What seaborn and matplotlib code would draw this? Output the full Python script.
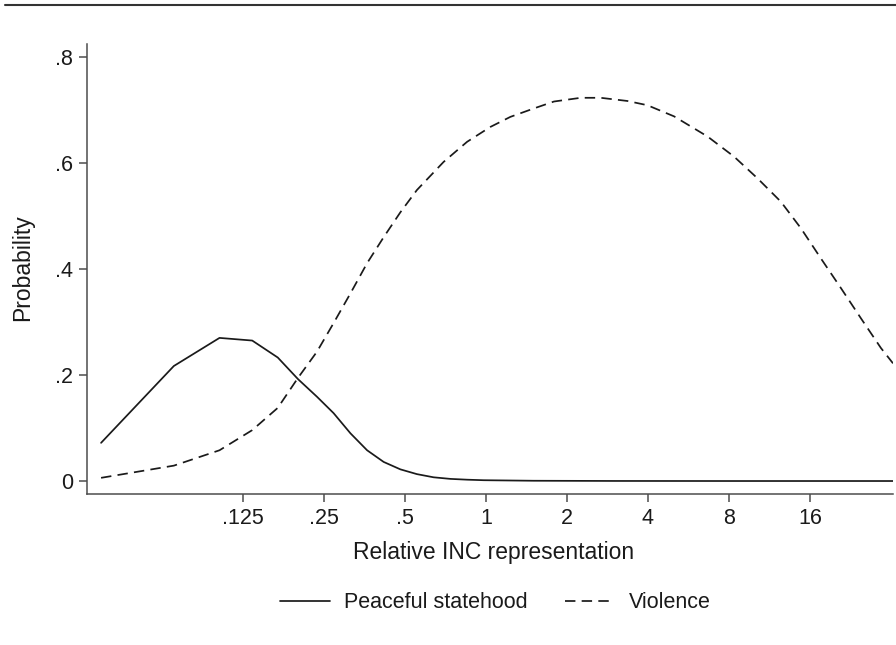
import matplotlib
matplotlib.use("Agg")
import matplotlib.pyplot as plt
import seaborn as sns
import pandas as pd
from matplotlib.lines import Line2D

# ---- data ----
x_peace = [0.037, 0.069, 0.102, 0.135, 0.168, 0.200, 0.235, 0.271, 0.313, 0.361,
           0.416, 0.48, 0.553, 0.638, 0.737, 0.85, 0.98, 1.5, 3.0, 8.0, 32.6]
y_peace = [0.072, 0.217, 0.270, 0.265, 0.233, 0.192, 0.159, 0.128, 0.090, 0.058,
           0.036, 0.022, 0.013, 0.007, 0.004, 0.0025, 0.0015, 0.0005, 0.0001, 0.0, 0.0]

x_viol = [0.037, 0.069, 0.102, 0.135, 0.168, 0.200, 0.235, 0.271, 0.313, 0.361,
          0.416, 0.48, 0.553, 0.695, 0.850, 1.037, 1.231, 1.507, 1.789, 2.249,
          2.668, 3.354, 3.98, 5.00, 6.66, 8.36, 10.22, 12.48, 14.81, 17.58,
          20.87, 24.77, 29.39, 32.6]
y_viol = [0.006, 0.029, 0.058, 0.096, 0.138, 0.195, 0.244, 0.298, 0.354, 0.411,
          0.460, 0.507, 0.549, 0.602, 0.640, 0.668, 0.687, 0.703, 0.716, 0.723,
          0.723, 0.717, 0.709, 0.688, 0.650, 0.612, 0.571, 0.527, 0.477, 0.420,
          0.364, 0.307, 0.251, 0.222]

series_names = ["Peaceful statehood", "Violence"]
x_ticks = [0.125, 0.25, 0.5, 1, 2, 4, 8, 16]
x_ticklabels = [".125", ".25", ".5", "1", "2", "4", "8", "16"]
y_ticks = [0, 0.2, 0.4, 0.6, 0.8]
y_ticklabels = ["0", ".2", ".4", ".6", ".8"]
x_title = "Relative INC representation"
y_title = "Probability"

df = pd.concat([
    pd.DataFrame({"x": x_peace, "y": y_peace, "series": series_names[0]}),
    pd.DataFrame({"x": x_viol, "y": y_viol, "series": series_names[1]}),
], ignore_index=True)

sns.set_theme(style="white")
plt.rcParams["font.family"] = ["Liberation Sans", "DejaVu Sans"]
plt.rcParams["lines.scale_dashes"] = False

fig = plt.figure(figsize=(8.96, 6.45), dpi=100)
ax = fig.add_axes([87 / 896, 1 - 494 / 645, 806 / 896, 450 / 645])

sns.lineplot(data=df, x="x", y="y", hue="series", style="series",
             palette={series_names[0]: "#1a1a1a", series_names[1]: "#1a1a1a"},
             dashes={series_names[0]: "", series_names[1]: (7.5, 4.5)},
             linewidth=1.25, legend=False, ax=ax, sort=False)

ax.set_xscale("log", base=2)
ax.set_xlim(0.0328, 32.6)
ax.set_ylim(-0.0245, 0.8245)
ax.set_xticks(x_ticks)
ax.set_xticklabels(x_ticklabels)
ax.minorticks_off()
ax.set_yticks(y_ticks)
ax.set_yticklabels(y_ticklabels)

spine_col = "#4d4d4d"
for s in ["top", "right"]:
    ax.spines[s].set_visible(False)
for s in ["left", "bottom"]:
    ax.spines[s].set_color(spine_col)
    ax.spines[s].set_linewidth(1.1)
ax.tick_params(axis="both", which="major", length=6, width=1.1, color=spine_col,
               labelsize=15.5, labelcolor="#1a1a1a", direction="out", pad=4,
               left=True, bottom=True)

ax.set_xlabel(x_title, fontsize=16.5, color="#1a1a1a")
ax.set_ylabel(y_title, fontsize=16.5, color="#1a1a1a", va="center")
ax.xaxis.set_label_coords((494 - 87) / 806, -0.104)
ax.yaxis.set_label_coords((23 - 87) / 806, 0.502)

handles = [Line2D([], [], color="#1a1a1a", lw=1.25),
           Line2D([], [], color="#1a1a1a", lw=1.25, dashes=(7.5, 4.5))]
fig.legend(handles, series_names, loc="center", bbox_to_anchor=(495.5 / 896, 1 - 603 / 645),
           ncol=2, frameon=False, fontsize=15.5, handlelength=2.3,
           handletextpad=0.65, columnspacing=1.75, labelcolor="#1a1a1a")

fig.add_artist(Line2D([5 / 896, 1.0], [1 - 5 / 645, 1 - 5 / 645],
                      transform=fig.transFigure, color="#333333", lw=1.5))

fig.savefig("out.png", dpi=100)
